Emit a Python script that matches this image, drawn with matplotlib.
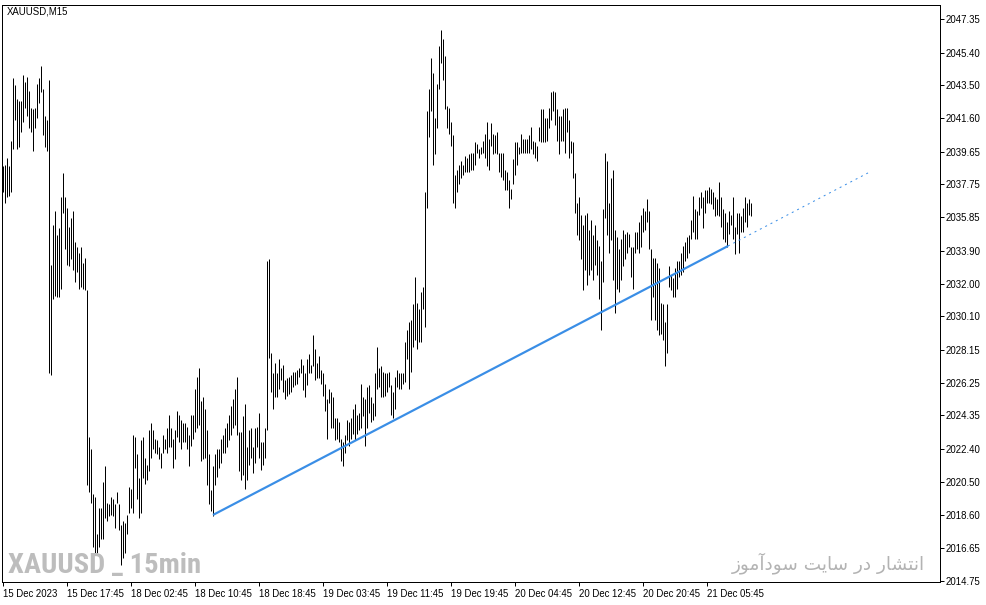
import matplotlib
matplotlib.use("Agg")
import matplotlib.pyplot as plt
from matplotlib import font_manager
import numpy as np

# ---------------- data ----------------
highs = [
    2038.8, 2038.9, 2039.3, 2038.8, 2040.3, 2043.9, 2043.5, 2042.7, 2042.6, 2042.6,
    2044.1, 2043.7, 2044.0, 2043.2, 2042.2, 2042.1, 2042.2, 2043.6, 2043.9, 2044.6,
    2043.3, 2041.7, 2041.5, 2043.8, 2033.1, 2035.4, 2036.2, 2034.8, 2035.2, 2037.0,
    2038.4, 2037.0, 2036.4, 2035.3, 2035.8, 2036.2, 2034.4, 2034.1, 2033.8, 2034.1,
    2033.2, 2033.5, 2031.6, 2023.1, 2022.4, 2019.8, 2019.6, 2017.5, 2019.0, 2019.0,
    2020.5, 2021.4, 2019.3, 2019.2, 2019.6, 2019.5, 2019.2, 2019.9, 2019.2, 2018.0,
    2018.2, 2018.1, 2018.6, 2020.2, 2020.1, 2023.2, 2023.1, 2022.1, 2020.7, 2022.9,
    2023.1, 2021.9, 2021.5, 2023.5, 2023.9, 2023.5, 2023.0, 2022.9, 2022.5, 2022.2,
    2023.2, 2023.0, 2023.6, 2024.4, 2023.6, 2023.0, 2023.5, 2024.6, 2024.4, 2024.1,
    2023.9, 2023.9, 2023.7, 2023.2, 2024.4, 2024.4, 2025.9, 2026.6, 2027.1, 2025.2,
    2025.4, 2024.7, 2023.5, 2022.1, 2020.0, 2021.4, 2022.1, 2022.4, 2022.4, 2023.0,
    2023.2, 2023.6, 2023.9, 2024.4, 2024.9, 2025.3, 2025.9, 2026.6, 2023.4, 2023.4,
    2024.3, 2025.0, 2022.5, 2023.5, 2023.6, 2022.5, 2023.6, 2023.7, 2024.5, 2022.8,
    2022.8, 2023.6, 2033.3, 2033.4, 2028.0, 2026.8, 2027.4, 2026.8, 2027.6, 2027.1,
    2027.3, 2026.4, 2026.5, 2026.6, 2026.7, 2026.9, 2026.9, 2027.0, 2027.1, 2027.6,
    2027.3, 2026.8, 2027.6, 2027.9, 2027.3, 2029.0, 2028.2, 2027.4, 2027.8, 2027.0,
    2026.8, 2026.2, 2025.3, 2025.9, 2025.7, 2025.4, 2024.2, 2024.2, 2024.0, 2023.0,
    2022.8, 2023.2, 2024.1, 2024.0, 2024.2, 2024.7, 2025.0, 2024.4, 2024.5, 2026.2,
    2025.4, 2025.3, 2026.0, 2026.1, 2025.4, 2025.1, 2026.8, 2028.3, 2027.1, 2027.2,
    2026.9, 2026.8, 2026.8, 2026.9, 2026.1, 2025.7, 2026.6, 2027.0, 2026.8, 2026.8,
    2026.8, 2028.6, 2029.3, 2029.8, 2029.9, 2030.8, 2032.4, 2030.9, 2030.5, 2031.5,
    2031.8, 2037.3, 2042.0, 2043.3, 2045.1, 2044.2, 2041.6, 2043.6, 2045.8, 2046.7,
    2046.2, 2045.2, 2042.3, 2042.2, 2041.4, 2040.6, 2038.3, 2038.6, 2038.9, 2039.1,
    2038.9, 2039.4, 2039.3, 2039.5, 2039.6, 2039.6, 2040.2, 2040.1, 2039.8, 2039.9,
    2040.3, 2040.7, 2041.4, 2040.4, 2041.3, 2040.7, 2040.6, 2040.8, 2039.6, 2039.6,
    2039.6, 2038.6, 2038.5, 2038.0, 2037.5, 2039.2, 2040.2, 2040.2, 2039.9, 2040.7,
    2040.4, 2040.4, 2040.4, 2040.6, 2041.1, 2040.3, 2040.2, 2040.0, 2041.1, 2042.1,
    2042.1, 2041.6, 2041.6, 2042.2, 2043.1, 2043.2, 2043.1, 2042.1, 2041.7, 2041.7,
    2042.1, 2042.2, 2042.2, 2041.5, 2040.3, 2040.2, 2038.4, 2036.7, 2037.0, 2036.0,
    2035.4, 2036.0, 2036.1, 2035.1, 2035.7, 2034.8, 2035.4, 2034.5, 2034.2, 2033.3,
    2036.3, 2039.6, 2039.1, 2036.7, 2038.1, 2038.6, 2035.1, 2034.7, 2034.0, 2034.6,
    2035.1, 2034.9, 2035.0, 2034.9, 2034.1, 2034.1, 2035.0, 2035.0, 2035.6, 2036.0,
    2036.4, 2036.2, 2036.9, 2036.2, 2034.0, 2033.5, 2033.5, 2033.2, 2032.9, 2030.9,
    2030.8, 2029.8, 2030.8, 2033.0, 2032.5, 2032.3, 2032.9, 2033.3, 2033.3, 2033.8,
    2034.2, 2034.4, 2034.7, 2034.8, 2035.7, 2037.1, 2036.3, 2036.2, 2037.0, 2037.3,
    2037.0, 2037.4, 2037.4, 2037.6, 2037.5, 2037.3, 2037.0, 2036.9, 2037.9, 2037.0,
    2036.3, 2036.1, 2035.6, 2036.2, 2036.0, 2037.0, 2035.3, 2036.1, 2036.1, 2035.9,
    2036.4, 2037.0, 2036.7, 2036.9, 2036.7,
]
lows = [
    2037.3, 2036.7, 2037.0, 2037.1, 2037.3, 2039.8, 2041.5, 2039.8, 2039.9, 2040.8,
    2041.4, 2042.2, 2041.7, 2041.0, 2040.8, 2039.7, 2041.0, 2041.6, 2042.5, 2043.1,
    2040.6, 2039.9, 2039.7, 2026.8, 2026.7, 2031.1, 2031.3, 2031.2, 2031.2, 2031.7,
    2036.1, 2034.0, 2033.1, 2033.0, 2033.4, 2032.8, 2032.1, 2032.7, 2031.7, 2031.8,
    2031.7, 2031.6, 2020.3, 2019.9, 2019.3, 2016.7, 2016.4, 2016.4, 2016.7, 2017.2,
    2017.2, 2018.4, 2018.2, 2018.5, 2018.6, 2018.5, 2017.8, 2019.3, 2017.7, 2015.7,
    2016.1, 2016.4, 2017.5, 2018.7, 2019.0, 2018.7, 2021.3, 2019.5, 2018.4, 2018.7,
    2020.7, 2020.4, 2020.6, 2021.1, 2021.9, 2022.4, 2022.2, 2022.1, 2021.8, 2021.3,
    2022.2, 2022.4, 2022.2, 2022.5, 2022.5, 2021.3, 2021.8, 2023.1, 2022.8, 2022.4,
    2022.8, 2022.8, 2022.4, 2021.4, 2022.6, 2023.0, 2023.4, 2023.6, 2023.8, 2021.7,
    2021.8, 2021.9, 2020.3, 2019.2, 2018.8, 2018.5, 2020.3, 2020.8, 2021.3, 2021.6,
    2022.2, 2022.2, 2022.5, 2022.9, 2023.2, 2023.6, 2023.8, 2023.2, 2021.1, 2020.6,
    2020.9, 2020.1, 2020.6, 2021.5, 2021.9, 2021.0, 2021.6, 2022.5, 2021.9, 2021.2,
    2021.5, 2021.9, 2023.5, 2027.7, 2025.7, 2024.7, 2025.4, 2025.4, 2025.9, 2026.4,
    2025.7, 2025.3, 2025.5, 2025.6, 2025.7, 2026.0, 2026.1, 2026.2, 2026.6, 2026.8,
    2025.8, 2025.4, 2026.1, 2026.8, 2026.8, 2027.2, 2026.4, 2026.5, 2026.5, 2026.2,
    2025.5, 2024.6, 2023.0, 2025.1, 2023.6, 2023.6, 2022.9, 2023.0, 2022.8, 2021.7,
    2021.4, 2022.2, 2022.9, 2022.6, 2023.0, 2023.3, 2022.9, 2023.3, 2023.5, 2023.6,
    2024.3, 2022.6, 2023.6, 2024.5, 2024.0, 2024.1, 2024.3, 2025.9, 2026.0, 2025.4,
    2025.4, 2025.5, 2025.7, 2026.0, 2024.4, 2024.2, 2024.7, 2026.0, 2025.9, 2025.9,
    2026.2, 2026.3, 2027.6, 2025.9, 2026.9, 2028.3, 2028.7, 2028.2, 2028.6, 2028.6,
    2030.5, 2029.5, 2036.4, 2040.5, 2042.0, 2038.9, 2039.5, 2041.0, 2043.3, 2044.8,
    2043.8, 2042.1, 2041.0, 2040.7, 2040.0, 2036.7, 2036.4, 2037.3, 2037.8, 2038.1,
    2038.3, 2038.5, 2038.5, 2038.5, 2038.6, 2038.6, 2038.9, 2039.6, 2039.3, 2039.5,
    2039.6, 2039.3, 2038.8, 2038.6, 2040.0, 2039.5, 2039.6, 2039.5, 2038.5, 2038.2,
    2038.0, 2037.4, 2037.4, 2036.4, 2036.9, 2037.8, 2038.3, 2038.9, 2039.5, 2039.6,
    2039.6, 2039.6, 2039.6, 2039.6, 2039.8, 2039.5, 2039.3, 2039.1, 2040.3, 2040.2,
    2040.2, 2040.2, 2040.3, 2041.0, 2041.5, 2042.0, 2041.2, 2040.3, 2039.5, 2040.3,
    2040.3, 2039.6, 2040.8, 2039.3, 2039.6, 2038.1, 2036.1, 2034.8, 2034.5, 2033.4,
    2031.6, 2032.8, 2031.9, 2032.5, 2032.8, 2032.2, 2033.1, 2032.5, 2031.1, 2029.3,
    2032.1, 2035.8, 2034.8, 2033.8, 2034.5, 2032.2, 2030.3, 2031.7, 2031.5, 2032.2,
    2033.0, 2033.4, 2033.8, 2034.1, 2032.4, 2031.7, 2033.8, 2034.0, 2033.8, 2034.1,
    2035.0, 2035.1, 2035.6, 2034.0, 2029.9, 2031.2, 2029.9, 2029.3, 2029.0, 2029.1,
    2028.7, 2027.2, 2028.0, 2031.8, 2031.6, 2031.2, 2031.2, 2031.7, 2032.4, 2032.5,
    2032.7, 2033.3, 2033.5, 2033.8, 2034.6, 2035.0, 2034.6, 2034.6, 2036.0, 2036.4,
    2035.2, 2036.1, 2036.7, 2036.7, 2036.6, 2036.3, 2035.9, 2036.0, 2035.9, 2035.3,
    2034.6, 2034.4, 2034.1, 2034.9, 2035.4, 2034.6, 2033.7, 2034.9, 2033.8, 2035.0,
    2035.0, 2035.6, 2035.3, 2036.0, 2035.9,
]

x_tick_idx = [0, 32, 64, 96, 128, 160, 192, 224, 256, 288, 320, 352]
x_tick_labels = ["15 Dec 2023", "15 Dec 17:45", "18 Dec 02:45", "18 Dec 10:45",
                 "18 Dec 18:45", "19 Dec 03:45", "19 Dec 11:45", "19 Dec 19:45",
                 "20 Dec 04:45", "20 Dec 12:45", "20 Dec 20:45", "21 Dec 05:45"]
y_ticks = [2047.35, 2045.40, 2043.50, 2041.60, 2039.65, 2037.75, 2035.85, 2033.90,
           2032.00, 2030.10, 2028.15, 2026.25, 2024.35, 2022.40, 2020.50, 2018.60,
           2016.65, 2014.75]

trend_x = [105, 362.5]
trend_y = [2018.58, 2034.18]
trend_ext_x = [362.5, 432.5]
trend_ext_y = [2034.18, 2038.42]

# ---------------- fonts ----------------
available = {f.name for f in font_manager.fontManager.ttflist}
label_font = ["Liberation Sans", "DejaVu Sans"]
if "Liberation Sans Narrow" in available:
    wm_family, wm_size = ["Liberation Sans Narrow", "DejaVu Sans"], 20.5
elif "Roboto Condensed" in available:
    wm_family, wm_size = ["Roboto Condensed", "DejaVu Sans"], 20.5
else:
    wm_family, wm_size = ["Liberation Sans", "DejaVu Sans"], 17

# ---------------- figure ----------------
W, H = 987, 605
fig = plt.figure(figsize=(W / 100, H / 100), dpi=100)
fig.patch.set_facecolor("white")
ax = fig.add_axes([2 / W, 1 - 582 / H, (940 - 2) / W, (582 - 5) / H])
ax.set_facecolor("white")

idx = np.arange(len(highs))
px = 72 / 100  # one pixel in points
ax.vlines(idx, lows, highs, colors="black", linewidth=1.0 * px)

ax.plot(trend_x, trend_y, color="#3a8ee6", linewidth=2.2 * px, solid_capstyle="butt")
ax.plot(trend_ext_x, trend_ext_y, color="#3a8ee6", linewidth=1.0 * px,
        linestyle=(0, (2, 4)))

ax.set_xlim(-0.5, 468.5)
ax.set_ylim(2014.69, 2048.16)

for s in ax.spines.values():
    s.set_linewidth(1.0 * px)
    s.set_color("black")

ax.yaxis.tick_right()
ax.set_yticks(y_ticks)
ax.set_yticklabels([f"{v:.2f}" for v in y_ticks], family=label_font)
ax.set_xticks(x_tick_idx)
ax.set_xticklabels(x_tick_labels, ha="left", family=label_font)
ax.tick_params(axis="both", direction="out", length=4 * px, width=1.0 * px,
               labelsize=6.9, colors="black")
ax.tick_params(axis="y", pad=1.0)
ax.tick_params(axis="x", pad=2.5)

fig.text(7 / W, 1 - 12 / H, "XAUUSD,M15", fontsize=6.9, family=label_font,
         va="center", ha="left", color="black")

# watermarks
fig.text(8 / W, 1 - 565 / H, "XAUUSD _ 15min", fontsize=wm_size, fontweight="bold",
         family=wm_family, color="#bdbdbd", va="center", ha="left")

# Persian text (visual order, presentation forms): "انتشار در سایت سودآموز"
persian = ("\uFEAF\uFEEE\uFEE3\uFE81\uFEA9\uFEEE\uFEB3" + " " +
           "\uFE96\uFBFE\uFE8E\uFEB3" + " " +
           "\uFEAD\uFEA9" + " " +
           "\uFEAD\uFE8E\uFEB8\uFE98\uFEE7\uFE8D")
fig.text(925 / W, 1 - 563 / H, persian, fontsize=13.3,
         family=["DejaVu Sans"], color="#b3b3b3", va="center", ha="right")

fig.savefig("out.png", dpi=100, facecolor="white")
